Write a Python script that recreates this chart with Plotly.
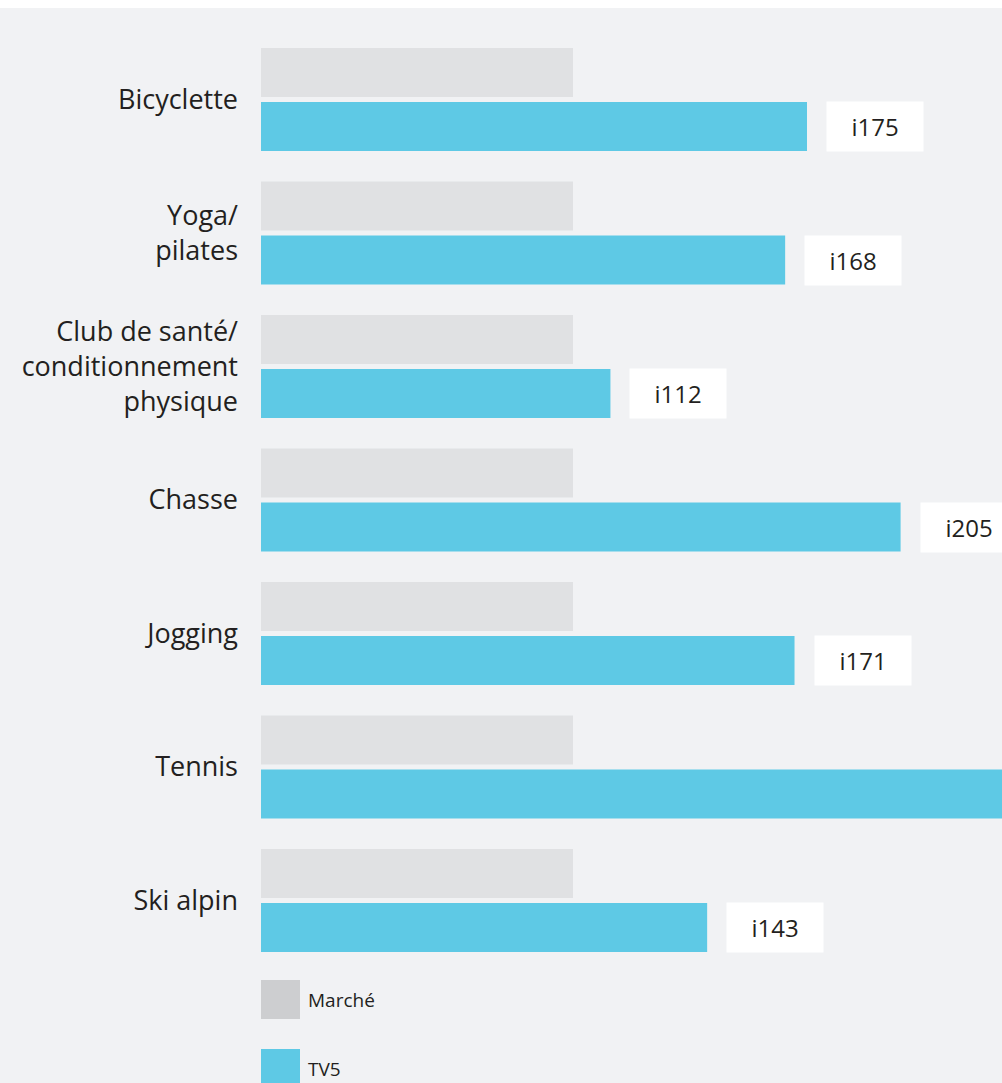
import plotly.graph_objects as go

categories = ["Bicyclette", "Yoga/<br>pilates", "Club de santé/<br>conditionnement<br>physique",
              "Chasse", "Jogging", "Tennis", "Ski alpin"]
marche_values = [100, 100, 100, 100, 100, 100, 100]
tv5_values = [175, 168, 112, 205, 171, 250, 143]
value_labels = ["i175", "i168", "i112", "i205", "i171", "i250", "i143"]
series_names = ["Marché", "TV5"]

W, H = 1002, 1083
BG = "#f1f2f4"
GRAY = "#e0e1e3"
GRAY_LEG = "#cdced0"
BLUE = "#5ec9e5"
TXT = "#231f20"
FONT = "Open Sans"

fig = go.Figure()
fig.add_trace(go.Bar(y=categories, x=marche_values, orientation="h", name=series_names[0],
                     marker=dict(color=GRAY, line=dict(width=0)), showlegend=False, hoverinfo="skip"))
fig.add_trace(go.Bar(y=categories, x=tv5_values, orientation="h", name=series_names[1],
                     marker=dict(color=BLUE, line=dict(width=0)), showlegend=False, hoverinfo="skip"))

for c, v, t in zip(categories, tv5_values, value_labels):
    fig.add_annotation(x=v, y=c, xref="x", yref="y", text=t, showarrow=False,
                       xanchor="left", xshift=19, yshift=-27,
                       width=96, height=49, bgcolor="white", borderpad=0,
                       font=dict(family=FONT, size=24, color=TXT))

# top white strip
fig.add_shape(type="rect", xref="paper", yref="paper", x0=-1, x1=2, y0=1 - 8 / H, y1=1.01,
              fillcolor="white", line=dict(width=0), layer="below")

# custom legend
l0 = 261
plot_w = W - l0
for i, (name, col) in enumerate(zip(series_names, [GRAY_LEG, BLUE])):
    top = 980 + i * 69
    fig.add_shape(type="rect", xref="paper", yref="paper",
                  x0=0, x1=39 / plot_w, y0=1 - (top + 39) / H, y1=1 - top / H,
                  fillcolor=col, line=dict(width=0))
    fig.add_annotation(xref="paper", yref="paper", x=45 / plot_w, y=1 - (top + 19.5) / H,
                       text=name, showarrow=False, xanchor="left", yanchor="middle",
                       font=dict(family=FONT, size=19, color=TXT))

pitch = 133.5
center0 = 99.5
ytop = -center0 / pitch
ybot = ytop + H / pitch

fig.update_layout(
    width=W, height=H,
    margin=dict(l=l0, r=0, t=0, b=0),
    paper_bgcolor=BG, plot_bgcolor=BG,
    barmode="group", bargap=25.5 / 133.5, bargroupgap=5 / 54,
    xaxis=dict(range=[0, plot_w / 3.12], showgrid=False, zeroline=False,
               showticklabels=False, showline=False, fixedrange=True),
    yaxis=dict(range=[ybot, ytop], showgrid=False, zeroline=False, showline=False,
               ticks="", ticklabelstandoff=22, fixedrange=True,
               tickfont=dict(family=FONT, size=27, color=TXT)),
    font=dict(family=FONT, color=TXT),
)

fig.write_html("out.html", config={"displayModeBar": False},
               post_script="document.body.style.margin='0';document.body.style.overflow='hidden';")
